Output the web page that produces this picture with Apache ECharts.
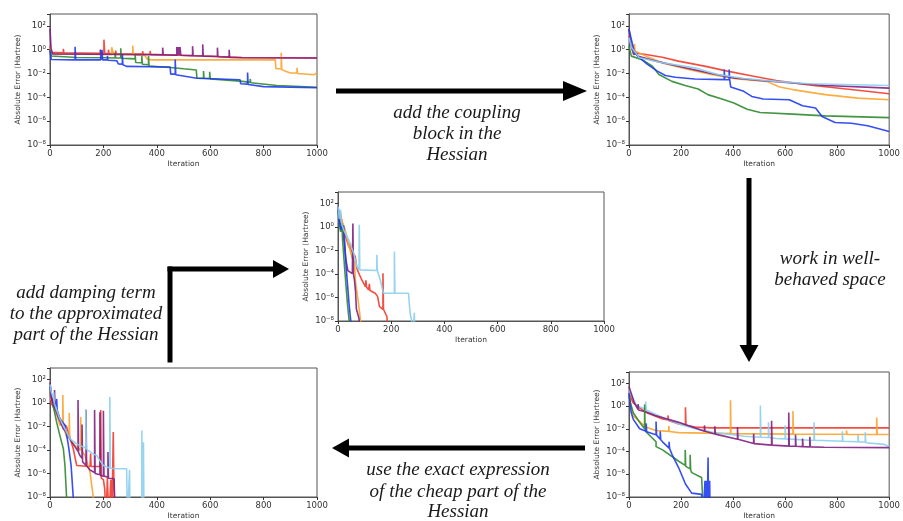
<!DOCTYPE html>
<html>
<head>
<meta charset="utf-8">
<script src="https://cdn.jsdelivr.net/npm/echarts@6/dist/echarts.min.js"></script>
<style>
  html, body { margin: 0; padding: 0; background: #fff; }
  #chart { width: 903px; height: 521px; }
</style>
</head>
<body>
<div id="chart"></div>
<script>
// x: iteration, y: absolute error (Hartree); 1e-10 = dropped below the plot floor
const yMin = 1e-8
const yMax = 1e3

// top-left: starting point
const tlRed = [[0,2],[5,0.6],[50,0.55],[50,1.2],[52,0.55],[188,0.5],[188,1.0],[190,0.5],[202,0.5],[202,7],[205,0.5],[219,0.48],[219,1.0],[221,0.48],[246,0.47],[246,0.85],[248,0.46],[347,0.44],[347,0.75],[349,0.43],[375,0.42],[375,0.8],[377,0.41],[450,0.36],[600,0.28],[720,0.22],[1000,0.2]]
const tlOrange = [[0,1.5],[5,0.45],[100,0.42],[231,0.4],[231,1.6],[237,1.6],[239,0.4],[310,0.38],[310,2.2],[312,0.37],[355,0.33],[365,0.16],[380,0.14],[600,0.14],[844,0.14],[846,0.025],[866,0.025],[866,0.55],[868,0.022],[880,0.016],[900,0.011],[925,0.011],[925,0.03],[927,0.01],[990,0.008],[1000,0.012]]
const tlGreen = [[0,1.0],[5,0.3],[100,0.22],[215,0.21],[244,0.2],[244,0.55],[246,0.2],[265,0.2],[265,1.3],[267,0.19],[300,0.18],[319,0.17],[319,0.35],[321,0.085],[344,0.08],[344,0.3],[346,0.06],[369,0.055],[369,0.3],[371,0.042],[450,0.032],[500,0.025],[548,0.02],[550,0.0042],[575,0.004],[575,0.016],[577,0.004],[598,0.0038],[598,0.014],[600,0.0036],[712,0.0023],[750,0.0018],[750,0.0035],[752,0.0017],[850,0.001],[1000,0.0007]]
const tlBlue = [[0,0.8],[5,0.15],[94,0.14],[94,1.8],[96,0.14],[190,0.14],[190,1.0],[193,0.14],[195,1.0],[197,0.14],[215,0.14],[215,0.3],[217,0.13],[250,0.12],[256,0.065],[271,0.06],[271,0.4],[273,0.055],[287,0.04],[450,0.035],[452,0.009],[469,0.009],[469,0.15],[471,0.008],[475,0.0055],[550,0.004],[712,0.003],[714,0.0014],[740,0.0013],[740,0.012],[742,0.0012],[800,0.0008],[1000,0.00065]]
const tlPurple = [[0,60],[4,1.2],[10,0.45],[300,0.4],[422,0.37],[422,1.5],[424,0.37],[475,0.35],[475,1.7],[478,0.35],[481,1.7],[484,0.35],[487,1.7],[490,0.34],[534,0.32],[534,2.0],[536,0.31],[572,0.3],[572,2.8],[574,0.29],[627,0.27],[627,1.5],[629,0.26],[671,0.24],[671,1.0],[673,0.23],[720,0.21],[1000,0.2]]

// top-right: coupling block added
const trRed = [[0,15],[10,2],[28,0.5],[65,0.4],[128,0.23],[190,0.11],[290,0.042],[378,0.016],[479,0.006],[566,0.0026],[692,0.0011],[880,0.0004],[1000,0.0002]]
const trOrange = [[0,20],[15,1.5],[21,3],[23,0.8],[65,0.29],[128,0.079],[228,0.022],[316,0.0083],[416,0.0035],[529,0.0022],[579,0.00074],[629,0.00045],[754,0.00017],[880,0.000087],[1000,0.000063]]
const trPurple = [[0,60],[8,2],[18,0.4],[30,0.5],[32,0.3],[103,0.11],[190,0.041],[316,0.01],[403,0.0043],[504,0.0026],[629,0.0016],[754,0.001],[1000,0.0006]]
const trGreen = [[0,2],[9,0.29],[53,0.135],[90,0.041],[115,0.0083],[165,0.0022],[216,0.001],[266,0.0005],[303,0.00017],[366,0.000063],[403,0.000033],[454,0.00001],[504,0.0000054],[629,0.0000039],[754,0.0000028],[1000,0.000002]]
const trBlue = [[0,50],[21,0.56],[46,0.17],[71,0.058],[109,0.016],[140,0.0068],[178,0.0049],[253,0.0035],[366,0.0031],[366,0.022],[368,0.0031],[385,0.003],[385,0.022],[387,0.003],[391,0.00074],[441,0.00032],[472,0.00012],[516,0.000072],[616,0.000063],[667,0.00002],[717,0.000013],[742,0.0000025],[792,0.00000078],[855,0.00000068],[917,0.00000041],[1000,0.000000135]]
const trSky = [[0,10],[10,1.5],[40,0.21],[128,0.08],[253,0.03],[341,0.0083],[441,0.0038],[566,0.0022],[692,0.0014],[1000,0.00098]]

// centre: damping term added
const cRed = [[0,20],[9,15],[21,0.6],[40,0.025],[46,0.016],[46,0.045],[48,0.012],[65,0.003],[71,0.0003],[78,0.00012],[90,0.00003],[103,0.0000085],[105,0.00003],[107,0.000008],[115,0.0000045],[118,0.000015],[120,0.000004],[140,0.0000023],[149,0.0000012],[156,0.00000017],[169,0.0000001],[169,0.00012],[171,0.0000001],[184,0.000000023],[190,1e-10]]
const cOrange = [[0,30],[9,8],[27,0.6],[40,0.03],[52,0.003],[62,0.0011],[66,0.00002],[76,0.0000005],[84,1.5e-8],[88,1e-10]]
const cPurple = [[0,60],[8,3],[18,0.78],[29,0.0021],[37,0.0002],[54,0.00011],[56,2.1],[58,0.0001],[62,0.00003],[66,0.000003],[69,0.00000011],[79,0.000000016],[88,1e-10]]
const cGreen = [[0,30],[5,1.5],[10,0.4],[15,0.3],[15,2.2],[17,0.1],[25,0.0003],[35,0.0000004],[42,1e-8],[46,1e-10]]
const cBlue = [[0,50],[5,3],[12,0.6],[19,0.5],[21,1.4],[23,0.4],[31,0.0003],[41,0.0000004],[48,1e-8],[52,1e-10]]
const cSky = [[0,60],[5,5],[10,30],[12,3],[21,0.6],[40,0.083],[59,0.006],[71,0.00044],[79,0.00023],[80,1.6],[82,0.00023],[146,0.0002],[146,0.0044],[148,0.0002],[152,0.0002],[159,0.00003],[171,0.0000023],[212,0.0000023],[212,0.0085],[214,0.0000023],[265,0.0000023],[271,0.000000046],[277,1e-8],[279,1e-10],[285,1e-10],[287,0.00000005],[289,1e-10]]

// bottom-right: well-behaved space
const brRed = [[0,14],[16,1.9],[66,0.27],[129,0.072],[150,0.06],[150,0.15],[152,0.055],[191,0.027],[217,0.022],[217,0.8],[219,0.02],[254,0.014],[317,0.012],[1000,0.012]]
const brOrange = [[0,14],[16,0.14],[66,0.014],[104,0.0072],[153,0.006],[153,0.018],[155,0.0058],[191,0.0046],[390,0.0038],[390,3.3],[392,0.0038],[630,0.0034],[630,0.37],[632,0.0034],[836,0.0033],[836,0.007],[838,0.0032],[952,0.0032],[952,0.1],[954,0.0032],[1000,0.0032]]
const brPurple = [[0,52],[20,2],[35,0.5],[35,1.5],[37,0.45],[66,0.3],[100,0.15],[191,0.037],[290,0.006],[290,0.02],[292,0.006],[330,0.0035],[330,0.017],[332,0.0034],[417,0.0012],[417,0.014],[419,0.0012],[479,0.0005],[479,0.0037],[481,0.0005],[548,0.00037],[548,0.051],[550,0.00037],[614,0.0003],[614,0.27],[616,0.0003],[640,0.00029],[640,0.003],[642,0.00029],[667,0.00027],[667,0.0014],[669,0.00027],[695,0.00026],[695,0.002],[697,0.00026],[750,0.00024],[1000,0.00022]]
const brGreen = [[0,10],[5,1.9],[16,0.27],[41,0.037],[60,0.01],[60,1.4],[62,0.008],[66,0.0052],[104,0.00072],[104,0.00027],[129,0.00014],[191,0.000014],[216,0.000006],[216,0.00014],[218,0.000005],[235,0.000003],[235,0.000052],[237,0.0000025],[241,0.0000014],[279,0.00000052],[283,1e-8],[285,1e-10]]
const brBlue = [[0,14],[8,0.3],[16,0.072],[41,0.01],[66,0.006],[66,0.03],[68,0.0055],[91,0.0037],[104,0.003],[104,0.043],[106,0.0028],[120,0.0012],[120,0.006],[122,0.0011],[129,0.00072],[154,0.0002],[154,0.00072],[156,0.00018],[166,0.000052],[191,0.0000037],[217,0.00000014],[241,0.000000022],[279,0.000000017],[285,1e-10],[292,1e-10],[292,0.00000027],[294,1e-10],[298,1e-10],[298,0.00000027],[300,1e-10],[304,1e-10],[304,0.00003],[306,1e-10],[310,1e-10],[310,0.00000027],[312,1e-10]]
const brSky = [[0,27],[30,1],[50,0.7],[64,0.5],[64,2.5],[66,0.45],[129,0.1],[191,0.027],[254,0.01],[317,0.0052],[442,0.0022],[505,0.0018],[505,1.15],[507,0.0018],[536,0.0017],[536,0.037],[538,0.0017],[567,0.0014],[600,0.0013],[600,0.02],[602,0.0013],[692,0.001],[711,0.001],[711,0.037],[713,0.001],[820,0.0008],[820,0.006],[822,0.0008],[880,0.00072],[880,0.003],[882,0.0007],[908,0.0007],[908,0.005],[910,0.0006],[980,0.00043],[1000,0.00027]]

// bottom-left: exact cheap part
const blRed = [[0,10],[5,1],[25,0.12],[40,0.03],[62,0.01],[87,0.00013],[100,0.0000049],[150,0.000004],[152,0.00005],[154,0.000004],[188,0.000004],[190,0.26],[192,0.0000004],[200,0.0000003],[205,0.00000005],[210,1e-10],[215,0.0000005],[220,1e-10],[228,0.0000003],[232,1e-10],[237,0.0035],[239,0.0000003],[244,1e-10]]
const blOrange = [[0,30],[5,2],[20,0.3],[37,0.0126],[48,0.02],[48,5],[50,0.01],[62,0.0014],[72,0.001],[72,0.15],[74,0.0008],[100,0.00018],[115,0.0001],[115,0.067],[117,0.0001],[131,0.000035],[150,0.0000013],[162,1e-8],[164,1e-10]]
const blPurple = [[0,60],[8,1.5],[17,0.5],[17,13],[19,0.4],[31,0.063],[50,0.0065],[62,0.003],[81,0.0005],[105,0.00008],[105,1.9],[107,0.00006],[112,0.000035],[120,0.00002],[120,0.015],[122,0.00001],[135,0.000005],[135,0.26],[137,0.0000045],[150,0.000002],[167,0.0000012],[167,0.26],[169,0.000001],[187,0.0000008],[187,0.17],[189,0.0000007],[200,0.0000006],[200,0.23],[202,0.0000006],[217,0.0000005],[217,0.00007],[219,0.0000004],[240,0.00000036],[244,1e-10]]
const blGreen = [[0,30],[2,8],[12,0.6],[25,0.023],[37,0.0017],[50,0.00013],[56,0.0000049],[62,1e-8],[64,1e-10]]
const blBlue = [[0,40],[5,3],[19,0.38],[25,0.3],[25,2.3],[27,0.25],[37,0.05],[56,0.0126],[69,0.00025],[79,0.000005],[87,1e-8],[89,1e-10]]
const blSky = [[0,40],[5,8],[12,3],[14,8],[16,1],[37,0.046],[75,0.0009],[100,0.00034],[125,0.00018],[134,0.00015],[134,0.32],[136,0.00012],[160,0.00005],[175,0.000035],[190,0.00001],[200,0.0000049],[224,0.000003],[224,3.4],[226,0.0000028],[250,0.0000026],[287,0.0000026],[290,1e-10],[296,1e-10],[298,0.000002],[300,1e-10],[344,1e-10],[344,0.0047],[346,1e-10],[350,1e-10],[350,0.00047],[352,1e-10]]

const colors = {
  red: '#f23b2c',
  orange: '#fba42c',
  purple: '#821f82',
  green: '#2f8a2f',
  blue: '#1f3cf2',
  sky: '#8ccfee',
}

// [left, top, width, height] of each plot frame
const panels = [
  { box: [50, 14, 267, 131], lines: [['red', tlRed], ['orange', tlOrange], ['green', tlGreen], ['blue', tlBlue], ['purple', tlPurple]] },
  { box: [629, 14, 266, 131], lines: [['red', trRed], ['orange', trOrange], ['purple', trPurple], ['green', trGreen], ['blue', trBlue], ['sky', trSky]] },
  { box: [338, 192, 266, 129], lines: [['red', cRed], ['orange', cOrange], ['purple', cPurple], ['green', cGreen], ['blue', cBlue], ['sky', cSky]] },
  { box: [50, 368, 267, 130], lines: [['red', blRed], ['orange', blOrange], ['green', blGreen], ['blue', blBlue], ['purple', blPurple], ['sky', blSky]] },
  { box: [629, 372, 266, 128], lines: [['red', brRed], ['orange', brOrange], ['sky', brSky], ['purple', brPurple], ['green', brGreen], ['blue', brBlue]] },
]

const sup = { '0': '⁰', '1': '¹', '2': '²', '3': '³', '4': '⁴', '5': '⁵', '6': '⁶', '7': '⁷', '8': '⁸', '9': '⁹', '-': '⁻' }
function powLabel(v) {
  const e = Math.round(Math.log10(v))
  if (e > 2) return ''
  return '10' + String(e).split('').map((c) => sup[c]).join('')
}

const axisColor = '#333'
const tickFont = { fontSize: 8.5, color: '#333', fontFamily: 'DejaVu Sans' }
const nameFont = { fontSize: 7.5, color: '#333', fontFamily: 'DejaVu Sans' }

const grid = panels.map((p) => ({
  left: p.box[0], top: p.box[1], width: p.box[2], height: p.box[3],
  show: true, borderColor: '#555', borderWidth: 1, backgroundColor: 'transparent',
}))

const xAxis = panels.map((p, i) => ({
  type: 'value', gridIndex: i, min: 0, max: 1000, interval: 200,
  axisLine: { show: true, onZero: false, lineStyle: { color: '#555' } },
  axisTick: { show: true, length: 3, lineStyle: { color: axisColor } },
  axisLabel: { ...tickFont, margin: 4, formatter: (v) => String(v) },
  splitLine: { show: false },
  name: 'Iteration', nameLocation: 'middle', nameGap: 15, nameTextStyle: nameFont,
}))

const yAxis = panels.map((p, i) => ({
  type: 'log', logBase: 10, gridIndex: i, min: yMin, max: yMax, interval: 2,
  axisLine: { show: true, lineStyle: { color: '#555' } },
  axisTick: { show: true, length: 3, lineStyle: { color: axisColor } },
  axisLabel: { ...tickFont, margin: 4, formatter: powLabel },
  splitLine: { show: false },
  minorTick: { show: false },
  name: 'Absolute Error (Hartree)', nameLocation: 'middle', nameGap: 28, nameTextStyle: nameFont,
}))

const series = []
panels.forEach((p, i) => {
  p.lines.forEach(([c, data]) => {
    series.push({
      type: 'line', xAxisIndex: i, yAxisIndex: i, data,
      showSymbol: false, symbol: 'none', clip: true,
      lineStyle: { color: colors[c], width: 1.6, opacity: 0.9 },
      itemStyle: { color: colors[c] },
    })
  })
})

// arrows and captions between the panels
const ink = '#000'
const capFont = 'italic 19px "Liberation Serif", "Times New Roman", serif'
function caption(x, y, text) {
  return { type: 'text', style: { x, y, text, font: capFont, fill: '#1a1a1a', align: 'center', verticalAlign: 'middle' } }
}
function bar(x, y, w, h) {
  return { type: 'rect', shape: { x, y, width: w, height: h }, style: { fill: ink } }
}
function head(points) {
  return { type: 'polygon', shape: { points }, style: { fill: ink } }
}

const graphic = [
  bar(336, 88.5, 228, 5), head([[563, 81], [587, 91], [563, 101]]),
  caption(457, 113, 'add the coupling'), caption(457, 134, 'block in the'), caption(457, 155, 'Hessian'),

  bar(746.5, 178, 5, 168), head([[739.5, 345], [749, 362], [758.5, 345]]),
  caption(830, 258.5, 'work in well-'), caption(830, 279.5, 'behaved space'),

  bar(348, 445.5, 237, 5), head([[349, 438.5], [332, 448], [349, 457.5]]),
  caption(458, 470, 'use the exact expression'), caption(458, 491.5, 'of the cheap part of the'), caption(458, 512, 'Hessian'),

  bar(167.5, 266.5, 5, 96), bar(167.5, 266.5, 106, 5), head([[273, 260], [289, 269], [273, 278]]),
  caption(86, 293, 'add damping term'), caption(86, 314, 'to the approximated'), caption(86, 334.5, 'part of the Hessian'),
]

const chart = echarts.init(document.getElementById('chart'), null, { renderer: 'canvas' })
chart.setOption({
  animation: false,
  backgroundColor: '#fff',
  grid,
  xAxis,
  yAxis,
  series,
  graphic,
})
</script>
</body>
</html>
